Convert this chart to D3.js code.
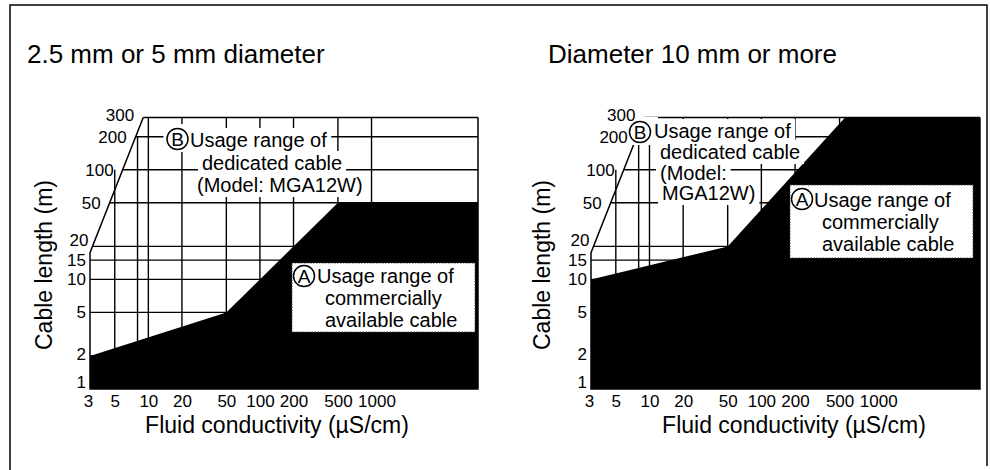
<!DOCTYPE html>
<html>
<head>
<meta charset="utf-8">
<script src="https://cdn.jsdelivr.net/npm/d3@7"></script>
<style>
body { margin: 0; background: #fff; }
svg text { font-family: "Liberation Sans", Arial, sans-serif; fill: #000; }
</style>
</head>
<body>
<script>
// axis ticks and grid
var xTicks = [3, 5, 10, 20, 50, 100, 200, 500, 1000];
var yTicks = [1, 2, 5, 10, 15, 20, 50, 100, 200, 300];
var xGrid = [5, 8, 10, 20, 50, 100, 200, 500, 1000];
var xGridTop = [100, 200, 300, 300, 300, 300, 300, 300, 300];
var xDomain = [3, 9000];
var yDomain = [1, 300];

// upper edge of range A (commercial cable), [conductivity, length]
var smallEdge = [[3, 2], [50, 5], [500, 50], [9000, 50]];
var largeEdge = [[3, 10], [50, 20], [560, 300], [9000, 300]];
// slanted guide line left of the grid
var slant = [[3, 17.5], [9, 300]];

var titles = ["2.5 mm or 5 mm diameter", "Diameter 10 mm or more"];
var bText = [["Usage range of", "dedicated cable", "(Model: MGA12W)"],
             ["Usage range of", "dedicated cable", "(Model:", "MGA12W)"]];
var aText = ["Usage range of", "commercially", "available cable"];
var yTitle = "Cable length (m)";
var xTitle = "Fluid conductivity (\u00b5S/cm)";

var W = 990, H = 470;
var svg = d3.select('body').append('svg')
        .attr('width', W)
        .attr('height', H);

// outer frame (no bottom edge in the scan)
svg.append('path')
        .attr('d', 'M10,470V5H987V466')
        .attr('fill', 'none')
        .attr('stroke', '#000')
        .attr('stroke-width', 1.5);

// small label nudges so crowded ticks don't collide
var yNudge = {1: -7, 2: -2, 20: -6, 300: -2};
var xNudge = {3: -2, 1000: 5};

var panels = [
    {x0: 90, x1: 478, edge: smallEdge, title: titles[0], tx: 27, yt: 52, xt: 277,
     b: {cx: 177.5, cy: 139, lines: [[190, 147], [202, 170], [197, 192]], text: bText[0]},
     a: {x: 292, y: 263, w: 183, h: 69, cx: 304, cy: 276, lines: [[317, 283], [325, 305], [325, 327]]}},
    {x0: 591, x1: 980, edge: largeEdge, title: titles[1], tx: 548, yt: 550, xt: 794,
     b: {cx: 640, cy: 132, lines: [[654, 138], [660, 159], [660, 180], [662, 200]], text: bText[1]},
     a: {x: 790, y: 185, w: 183, h: 73, cx: 802, cy: 199, lines: [[814, 207], [822, 229], [822, 251]]}}
];

panels.forEach(function(p) {
    var x = d3.scaleLog().domain(xDomain).range([p.x0, p.x1]);
    var y = d3.scaleLog().domain(yDomain).range([389, 117.5]);
    var g = svg.append('g');

    // x position of the slanted guide at a given length
    function slantX(v) {
        if (v <= slant[0][1]) return x(slant[0][0]);
        var t = (Math.log(v) - Math.log(slant[0][1])) / (Math.log(slant[1][1]) - Math.log(slant[0][1]));
        return x(Math.exp(Math.log(slant[0][0]) + t * (Math.log(slant[1][0]) - Math.log(slant[0][0]))));
    }

    // horizontal grid
    g.selectAll('.hg').data(yTicks.slice(1))
        .enter().append('line')
        .attr('x1', function(d) { return slantX(d); })
        .attr('x2', x(xDomain[1]))
        .attr('y1', function(d) { return y(d); })
        .attr('y2', function(d) { return y(d); })
        .attr('stroke', '#000').attr('stroke-width', 1.4);

    // vertical grid
    g.selectAll('.vg').data(xGrid)
        .enter().append('line')
        .attr('x1', function(d) { return x(d); })
        .attr('x2', function(d) { return x(d); })
        .attr('y1', y(yDomain[0]))
        .attr('y2', function(d, i) { return y(xGridTop[i]); })
        .attr('stroke', '#000').attr('stroke-width', 1.4);

    // plot edges and slanted guide
    var lineFn = d3.line().x(function(d) { return x(d[0]); }).y(function(d) { return y(d[1]); });
    g.append('path')
        .attr('d', lineFn([[xDomain[1], yDomain[1]], [xDomain[1], yDomain[0]], [xDomain[0], yDomain[0]], [xDomain[0], slant[0][1]]]) + lineFn(slant).replace('M', 'L'))
        .attr('fill', 'none').attr('stroke', '#000').attr('stroke-width', 1.5);

    // range A (black)
    var area = d3.area()
        .x(function(d) { return x(d[0]); })
        .y0(y(yDomain[0]))
        .y1(function(d) { return y(d[1]); });
    g.append('path')
        .attr('d', area(p.edge))
        .attr('fill', '#000');

    // range B label with white knock-out behind each piece
    var bg = g.append('g');
    var bl = g.append('g');
    bl.append('circle')
        .attr('cx', p.b.cx).attr('cy', p.b.cy).attr('r', 10.5)
        .attr('fill', 'none').attr('stroke', '#000').attr('stroke-width', 1.5);
    bl.append('text')
        .attr('x', p.b.cx).attr('y', p.b.cy + 7)
        .attr('text-anchor', 'middle').style('font-size', '19px')
        .text('B');
    p.b.text.forEach(function(t, i) {
        bl.append('text')
            .attr('x', p.b.lines[i][0]).attr('y', p.b.lines[i][1])
            .style('font-size', '20px')
            .text(t);
    });
    bl.selectAll('text').each(function(d, i) {
        if (i === 0) return;
        var bb = this.getBBox();
        bg.append('rect')
            .attr('x', bb.x - 4).attr('y', bb.y - 1)
            .attr('width', bb.width + 8).attr('height', bb.height + 2)
            .attr('fill', '#fff');
    });
    bg.append('rect')
        .attr('x', p.b.cx - 14).attr('y', p.b.cy - 15)
        .attr('width', 32).attr('height', 28)
        .attr('fill', '#fff');

    // range A label box
    g.append('rect')
        .attr('x', p.a.x).attr('y', p.a.y)
        .attr('width', p.a.w).attr('height', p.a.h)
        .attr('fill', '#fff')
        .attr('stroke', '#444').attr('stroke-width', 1)
        .attr('stroke-dasharray', '1.5 1.5');
    g.append('circle')
        .attr('cx', p.a.cx).attr('cy', p.a.cy).attr('r', 10.5)
        .attr('fill', 'none').attr('stroke', '#000').attr('stroke-width', 1.5);
    g.append('text')
        .attr('x', p.a.cx).attr('y', p.a.cy + 7)
        .attr('text-anchor', 'middle').style('font-size', '19px')
        .text('A');
    aText.forEach(function(t, i) {
        g.append('text')
            .attr('x', p.a.lines[i][0]).attr('y', p.a.lines[i][1])
            .style('font-size', '20px')
            .text(t);
    });

    // x tick labels
    var xAxis = g.append('g')
        .attr('transform', 'translate(0,' + y(yDomain[0]) + ')')
        .call(d3.axisBottom(x).tickValues(xTicks).tickFormat(d3.format('d')).tickSize(0).tickPadding(6));
    xAxis.select('.domain').remove();
    xAxis.attr('font-family', null).attr('font-size', null);
    xAxis.selectAll('text')
        .style('font-size', '17px')
        .attr('dx', function(d) { return xNudge[d] || 0; });

    // y tick labels
    g.selectAll('.yl').data(yTicks)
        .enter().append('text')
        .attr('x', function(d) { return slantX(d) - (d > 20 ? 9 : 4); })
        .attr('y', function(d) { return y(d) + (yNudge[d] || 0); })
        .attr('dy', '0.35em')
        .attr('text-anchor', 'end')
        .style('font-size', '17px')
        .text(function(d) { return d; });

    // titles
    g.append('text')
        .attr('x', p.tx).attr('y', 63)
        .style('font-size', '26px')
        .text(p.title);
    g.append('text')
        .attr('transform', 'translate(' + p.yt + ',265) rotate(-90)')
        .attr('text-anchor', 'middle')
        .style('font-size', '23px')
        .text(yTitle);
    g.append('text')
        .attr('x', p.xt).attr('y', 433)
        .attr('text-anchor', 'middle')
        .style('font-size', '23px')
        .text(xTitle);
});
</script>
</body>
</html>
